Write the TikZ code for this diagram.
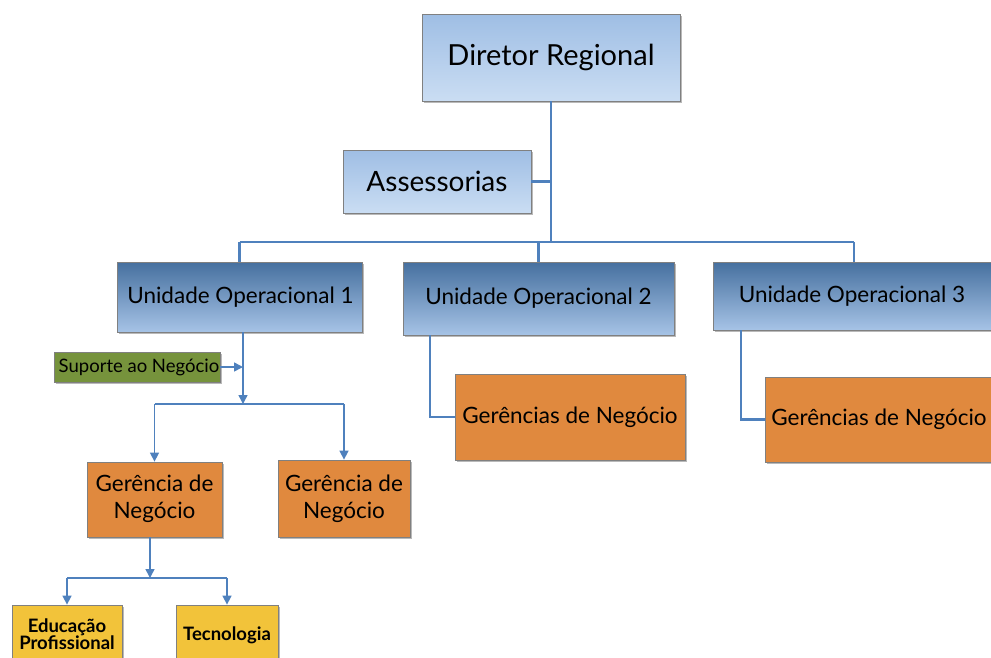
\documentclass[tikz,border=0pt]{standalone}
\usepackage{fontspec}
\setmainfont{Lato}
\usetikzlibrary{arrows.meta,shadows}

\definecolor{linkblue}{HTML}{4F81BD}
\definecolor{lightTop}{HTML}{9FBEE4}
\definecolor{lightBot}{HTML}{CADDF3}
\definecolor{unitTop}{HTML}{46709F}
\definecolor{unitBot}{HTML}{A6C3E6}
\definecolor{orangeFill}{HTML}{E0893E}
\definecolor{greenFill}{HTML}{76933C}
\definecolor{yellowFill}{HTML}{F2C33A}

\tikzset{
  box/.style={rectangle, inner sep=0pt, align=center, text=black,
    draw=black!50, line width=0.8pt,
    drop shadow={shadow xshift=2.2pt, shadow yshift=-2.2pt, opacity=0.55}},
  lightbox/.style={box, top color=lightTop, bottom color=lightBot},
  unitbox/.style={box, top color=unitTop, bottom color=unitBot,
    font=\fontsize{22.5}{26}\selectfont},
  orangebox/.style={box, fill=orangeFill, font=\fontsize{22.5}{27}\selectfont},
  greenbox/.style={box, fill=greenFill},
  yellowbox/.style={box, fill=yellowFill, font=\bfseries\fontsize{18.5}{19}\selectfont},
  link/.style={draw=linkblue, line width=2.2pt},
  thinlink/.style={draw=linkblue, line width=1.5pt},
  arrowlink/.style={thinlink, -{Triangle[length=9pt,width=9pt]}},
}

\begin{document}
\begin{tikzpicture}[x=1pt,y=-1pt]
\useasboundingbox (0,0) rectangle (991,657);
\clip (0,0) rectangle (991,657);

% upper levels
\node[lightbox, minimum width=258pt, minimum height=87pt,
      font=\fontsize{29}{32}\selectfont] (dir) at (551,57.5) {\raisebox{-3pt}{Diretor Regional}};
\node[lightbox, minimum width=188pt, minimum height=63pt,
      font=\fontsize{28}{31}\selectfont] (ass) at (437,181.5) {Assessorias};

\node[unitbox, minimum width=245pt, minimum height=70pt] (uo1) at (239.5,297)
  {\hspace*{2pt}Unidade Operacional 1};
\node[unitbox, minimum width=271pt, minimum height=73pt] (uo2) at (538.5,298.5)
  {Unidade Operacional 2};
\node[unitbox, minimum width=282pt, minimum height=68pt] (uo3) at (854,296)
  {\hspace*{-4pt}Unidade Operacional 3};

% business managements
\node[orangebox, minimum width=230pt, minimum height=86pt] (g2) at (570,417)
  {Gerências de Negócio};
\node[orangebox, minimum width=240pt, minimum height=85pt] (g3) at (885,419.5)
  {\hspace*{-12pt}Gerências de Negócio};

\node[greenbox, minimum width=166pt, minimum height=30pt,
      font=\fontsize{18.5}{20}\selectfont] (sup) at (137,367) {\hspace*{4pt}Suporte ao Negócio};

\node[orangebox, minimum width=135pt, minimum height=75pt] (gn1) at (154.5,499.5)
  {\raisebox{-4pt}{\begin{tabular}{@{}c@{}}Gerência de\\Negócio\end{tabular}}};
\node[orangebox, minimum width=132pt, minimum height=77pt] (gn2) at (344,498.5)
  {Gerência de\\Negócio};

\node[yellowbox, minimum width=110pt, minimum height=64pt] (edu) at (67,637)
  {\raisebox{11pt}{\begin{tabular}{@{}c@{}}Educação\\[-2pt]Profissional\end{tabular}}};
\node[yellowbox, minimum width=102pt, minimum height=64pt] (tec) at (227,637)
  {\raisebox{6pt}{Tecnologia}};

% junction points
\coordinate (bar) at (551,242);
\coordinate (split1) at (243,404);
\coordinate (split2) at (150,578);

% trunk and top bar
\draw[link] (dir.south) -- (dir.south |- bar);
\draw[link] (ass.east) -- (ass.east -| dir.south);
\draw[link] (uo1.north |- bar) -- (uo3.north |- bar);
\draw[link] (uo1.north |- bar) -- (uo1.north);
\draw[link] (uo2.north |- bar) -- (uo2.north);
\draw[link] (uo3.north |- bar) -- (uo3.north);

% units 2 and 3
\draw[link] ([xshift=27pt]uo2.south west) |- (g2.west);
\draw[link] ([xshift=28pt]uo3.south west) |- (g3.west);

% unit 1 branch
\draw[arrowlink] (uo1.south -| split1) -- (split1);
\draw[arrowlink] (sup.east) -- (sup.east -| split1);
\draw[thinlink] (gn1.north |- split1) -- (gn2.north |- split1);
\draw[arrowlink] (gn1.north |- split1) -- (gn1.north);
\draw[arrowlink] (gn2.north |- split1) -- (gn2.north);

\draw[arrowlink] (gn1.south -| split2) -- (split2);
\draw[thinlink] (edu.north |- split2) -- (tec.north |- split2);
\draw[arrowlink] (edu.north |- split2) -- (edu.north);
\draw[arrowlink] (tec.north |- split2) -- (tec.north);
\end{tikzpicture}
\end{document}
